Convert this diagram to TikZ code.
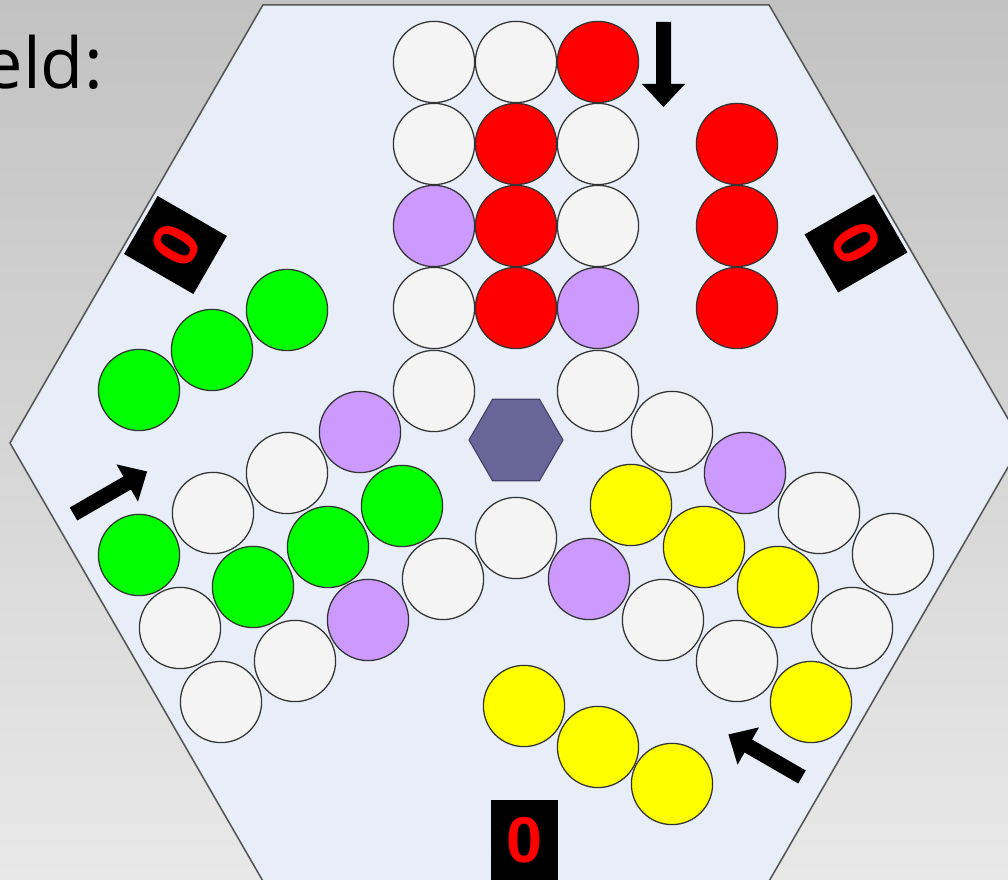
\documentclass[tikz,border=0pt]{standalone}
\usepackage{fontspec}
\setmainfont{Open Sans}
\newfontfamily\digitfont{Liberation Sans}
\usetikzlibrary{shapes.geometric}
\definecolor{bgtop}{HTML}{C2C2C2}
\definecolor{bgbot}{HTML}{E8E8E8}
\definecolor{boardfill}{HTML}{E7EEF8}
\definecolor{boardline}{HTML}{555555}
\definecolor{pegwhite}{HTML}{F4F4F4}
\definecolor{pegred}{HTML}{FF0000}
\definecolor{peggreen}{HTML}{00FF00}
\definecolor{pegyellow}{HTML}{FFFF00}
\definecolor{pegpurple}{HTML}{CC99FF}
\definecolor{hubfill}{HTML}{666699}
\definecolor{hubline}{HTML}{444466}
\begin{document}
\begin{tikzpicture}[x=0.025cm,y=0.025cm,
  peg/.style={circle, draw=black!80, line width=0.9pt, minimum size=2.03cm, inner sep=0pt},
  wp/.style={peg, fill=pegwhite},
  rp/.style={peg, fill=pegred},
  gp/.style={peg, fill=peggreen},
  yp/.style={peg, fill=pegyellow},
  pp/.style={peg, fill=pegpurple},
  scorebox/.style={fill=black, minimum width=1.675cm, minimum height=2cm, inner sep=0pt,
    text=pegred, font=\digitfont\bfseries\fontsize{46}{46}\selectfont},
  bigarrow/.pic={\fill[black] (0,-7.5) -- (62,-7.5) -- (62,-21.5) -- (85,0) -- (62,21.5) -- (62,7.5) -- (0,7.5) -- cycle;}
]
\useasboundingbox (0,0) rectangle (1008,880);
\clip (0,0) rectangle (1008,880);
\shade[top color=bgtop, bottom color=bgbot] (0,0) rectangle (1008,880);

% board
\draw[boardline, line width=1.1pt, fill=boardfill]
  (1022,437) -- (769,875.2) -- (263,875.2) -- (10,437) -- (263,-1.2) -- (769,-1.2) -- cycle;

\node[anchor=base east, inner sep=0pt, font=\fontsize{50}{60}\selectfont] (title) at (103,791) {eld:};

% hub
\node[regular polygon, regular polygon sides=6, minimum size=2.35cm, inner sep=0pt,
  fill=hubfill, draw=hubline, line width=0.8pt] (hub) at (516,440) {};

% top arm
\node[wp] (t11) at (434,818) {};
\node[wp] (t12) at (516,818) {};
\node[rp] (t13) at (598,818) {};
\node[wp] (t21) at (434,736) {};
\node[rp] (t22) at (516,736) {};
\node[wp] (t23) at (598,736) {};
\node[pp] (t31) at (434,654) {};
\node[rp] (t32) at (516,654) {};
\node[wp] (t33) at (598,654) {};
\node[wp] (t41) at (434,572) {};
\node[rp] (t42) at (516,572) {};
\node[pp] (t43) at (598,572) {};
\node[wp] (j1) at (434,489) {};
\node[wp] (j2) at (598,489) {};
\node[wp] (j3) at (516,342) {};
% red home
\node[rp] (rh1) at (737,736) {};
\node[rp] (rh2) at (737,654) {};
\node[rp] (rh3) at (737,572) {};

% green arm
\node[gp] (g11) at (139,325) {};
\node[wp] (g12) at (213,367) {};
\node[wp] (g13) at (287,407) {};
\node[pp] (g14) at (360,448) {};
\node[wp] (g21) at (180,252) {};
\node[gp] (g22) at (253,293) {};
\node[gp] (g23) at (328,333) {};
\node[gp] (g24) at (402,374) {};
\node[wp] (g31) at (221,178) {};
\node[wp] (g32) at (295,219) {};
\node[pp] (g33) at (368,260) {};
\node[wp] (g34) at (443,301) {};
% green home
\node[gp] (gh1) at (139,490) {};
\node[gp] (gh2) at (212,530) {};
\node[gp] (gh3) at (287,570) {};

% yellow arm
\node[wp] (y11) at (672,448) {};
\node[pp] (y12) at (745,407) {};
\node[wp] (y13) at (819,367) {};
\node[wp] (y14) at (893,326) {};
\node[yp] (y21) at (631,375) {};
\node[yp] (y22) at (704,333) {};
\node[yp] (y23) at (778,293) {};
\node[wp] (y24) at (852,252) {};
\node[pp] (y31) at (589,301) {};
\node[wp] (y32) at (663,260) {};
\node[wp] (y33) at (737,219) {};
\node[yp] (y34) at (811,178) {};
% yellow home
\node[yp] (yh1) at (524,174) {};
\node[yp] (yh2) at (598,133) {};
\node[yp] (yh3) at (672,96) {};

% start arrows
\pic[rotate=-90] at (663.5,858) {bigarrow};
\pic[rotate=30] at (73.5,366) {bigarrow};
\pic[rotate=150] at (802,103) {bigarrow};

% score boxes
\node[scorebox, rotate=-120] (sg) at (175.5,635) {0};
\node[scorebox, rotate=120] (sr) at (856,636.5) {0};
\node[scorebox] (sy) at (524.5,40) {0};
\end{tikzpicture}
\end{document}
